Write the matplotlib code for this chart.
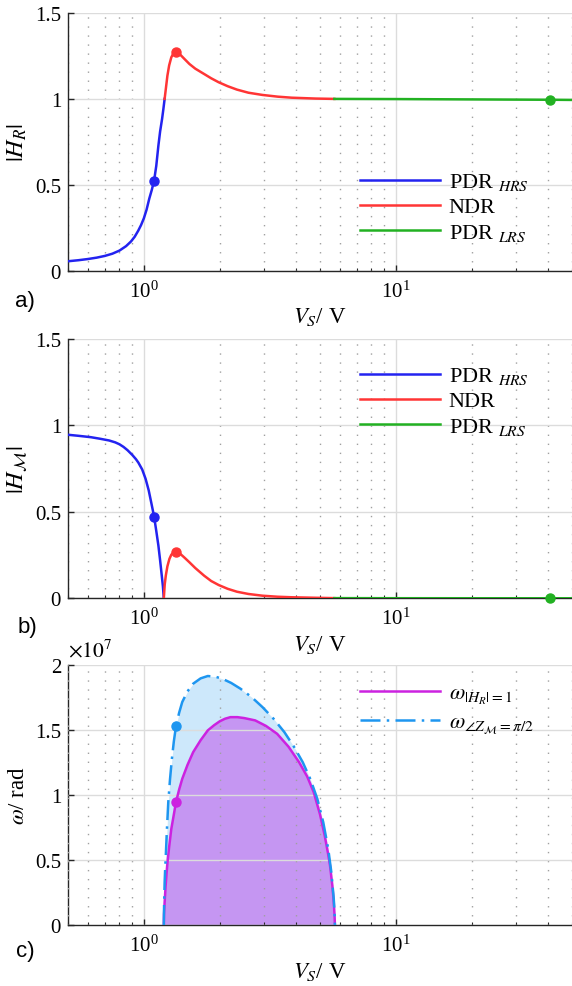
import matplotlib
matplotlib.use("Agg")
import matplotlib.pyplot as plt
from matplotlib.ticker import LogLocator, NullFormatter, FixedLocator

plt.rcParams['font.family'] = ['Liberation Serif', 'DejaVu Serif']
plt.rcParams['mathtext.fontset'] = 'stix'

# ---------------- data ----------------
# panel a: |H_R|
hr_hrs_v = [0.5, 0.55, 0.6, 0.65, 0.7, 0.75, 0.8, 0.85, 0.889, 0.92, 0.95, 0.975, 1.0,
            1.025, 1.051, 1.075, 1.098, 1.12, 1.142, 1.16, 1.181, 1.195, 1.209]
hr_hrs = [0.055, 0.061, 0.068, 0.076, 0.086, 0.099, 0.117, 0.143, 0.170, 0.198, 0.233,
          0.266, 0.305, 0.355, 0.420, 0.470, 0.524, 0.610, 0.728, 0.810, 0.883, 0.940, 1.0]
hr_ndr_v = [1.209, 1.225, 1.24, 1.26, 1.285, 1.31, 1.341, 1.37, 1.40, 1.45, 1.517, 1.6,
            1.734, 1.85, 1.98, 2.15, 2.342, 2.6, 2.956, 3.4, 3.86, 4.8, 5.7]
hr_ndr = [1.0, 1.07, 1.135, 1.195, 1.242, 1.265, 1.275, 1.268, 1.255, 1.232, 1.203, 1.176,
          1.145, 1.12, 1.097, 1.074, 1.054, 1.036, 1.023, 1.013, 1.007, 1.002, 1.0]
hr_lrs_v = [5.7, 10, 20, 41, 50]
hr_lrs = [1.0, 0.999, 0.997, 0.995, 0.994]
hr_dots_v = [1.098, 1.341, 41]
hr_dots = [0.524, 1.275, 0.995]

# panel b: |H_M|
hm_hrs_v = [0.5, 0.55, 0.616, 0.67, 0.728, 0.77, 0.80, 0.83, 0.861, 0.90, 0.93, 0.951,
            0.985, 1.016, 1.045, 1.069, 1.085, 1.098, 1.12, 1.142, 1.16, 1.174, 1.19, 1.20]
hm_hrs = [0.946, 0.940, 0.932, 0.923, 0.913, 0.902, 0.891, 0.876, 0.857, 0.829, 0.805, 0.785,
          0.745, 0.691, 0.625, 0.556, 0.510, 0.473, 0.39, 0.305, 0.22, 0.150, 0.07, 0.0]
hm_ndr_v = [1.20, 1.21, 1.222, 1.24, 1.263, 1.285, 1.31, 1.341, 1.37, 1.40, 1.45, 1.517, 1.6,
            1.734, 1.85, 1.98, 2.15, 2.342, 2.6, 2.956, 3.4, 3.86, 4.8, 5.7]
hm_ndr = [0.0, 0.08, 0.131, 0.185, 0.228, 0.252, 0.265, 0.270, 0.264, 0.255, 0.235, 0.208, 0.175,
          0.131, 0.100, 0.077, 0.055, 0.038, 0.025, 0.015, 0.009, 0.006, 0.003, 0.001]
hm_lrs_v = [5.7, 10, 20, 41, 50]
hm_lrs = [0.001, 0.0005, 0.0003, 0.0002, 0.0002]
hm_dots_v = [1.098, 1.341, 41]
hm_dots = [0.473, 0.270, 0.0002]

# panel c: omega (units of 1e7 rad)
w_hr_v = [1.20, 1.202, 1.205, 1.209, 1.22, 1.23, 1.241, 1.26, 1.285, 1.31, 1.341, 1.38, 1.42,
          1.49, 1.569, 1.68, 1.793, 1.9, 2.0, 2.1, 2.206, 2.35, 2.5, 2.765, 3.05, 3.38, 3.75,
          4.13, 4.45, 4.72, 5.0, 5.22, 5.38, 5.48, 5.6, 5.67, 5.71, 5.73]
w_hr = [0, 0.08, 0.12, 0.174, 0.30, 0.39, 0.482, 0.60, 0.738, 0.83, 0.944, 1.04, 1.123,
        1.23, 1.328, 1.42, 1.495, 1.535, 1.565, 1.585, 1.597, 1.597, 1.590, 1.572, 1.53, 1.469, 1.37,
        1.251, 1.14, 1.021, 0.85, 0.687, 0.55, 0.456, 0.30, 0.174, 0.08, 0]
w_z_v = [1.20, 1.203, 1.209, 1.215, 1.222, 1.235, 1.25, 1.27, 1.292, 1.315, 1.341, 1.38, 1.42,
         1.49, 1.569, 1.68, 1.793, 1.92, 2.048, 2.22, 2.42, 2.68, 2.956, 3.27, 3.61, 3.94,
         4.27, 4.58, 4.88, 5.15, 5.39, 5.55, 5.67, 5.71, 5.73]
w_z = [0, 0.15, 0.328, 0.43, 0.533, 0.74, 0.944, 1.12, 1.277, 1.41, 1.526, 1.63, 1.713,
       1.795, 1.854, 1.895, 1.913, 1.908, 1.892, 1.86, 1.815, 1.75, 1.674, 1.585, 1.482, 1.37,
       1.251, 1.12, 0.969, 0.79, 0.585, 0.40, 0.2, 0.1, 0]
w_dots_v = [1.341, 1.341]
w_dots = [0.944, 1.526]

labels_ab = [r'PDR $_{HRS}$', 'NDR', r'PDR $_{LRS}$']
labels_c = [r'$\omega_{|H_R|=1}$', r'$\omega_{\angle Z_{\mathcal{M}}=\pi/2}$']

C_BLUE = '#2323f0'
C_RED = '#ff3535'
C_GREEN = '#22b122'
C_MAG = '#cc22e0'
C_LB = '#1e96f0'
C_FILL_LB = '#cde8fb'
C_FILL_P = '#c596f2'

FS = 15
FS_LAB = 16.5
FS_LEG = 16
LW = 1.8
W, H = 572, 987
fig = plt.figure(figsize=(W / 100, H / 100), dpi=100)

def ax_rect(top, bottom, left=68, right=572):
    return [left / W, 1 - bottom / H, (right - left) / W, (bottom - top) / H]

def style(ax, ylim, yticks, yticklabels):
    ax.set_xscale('log')
    ax.set_xlim(0.5, 50)
    ax.set_ylim(*ylim)
    ax.set_yticks(yticks)
    ax.set_yticklabels(yticklabels)
    ax.xaxis.set_major_locator(FixedLocator([1, 10]))
    ax.xaxis.set_minor_locator(LogLocator(base=10, subs=range(2, 10), numticks=20))
    ax.xaxis.set_minor_formatter(NullFormatter())
    ax.grid(True, which='major', color='#dcdcdc', lw=1.0, ls='-')
    ax.grid(True, which='minor', axis='x', color='#a0a0a0', lw=1.0, ls=(0, (1, 5.5)))
    ax.grid(False, which='minor', axis='y')
    for s in ['top', 'right']:
        ax.spines[s].set_visible(False)
    for s in ['left', 'bottom']:
        ax.spines[s].set_color('#262626')
        ax.spines[s].set_linewidth(1.0)
    ax.tick_params(which='major', direction='in', length=4.5, width=1.0, color='#262626',
                   labelsize=FS, pad=5)
    ax.tick_params(which='minor', direction='in', length=2.5, width=0.8, color='#262626')
    ax.tick_params(axis='x', which='major', pad=7)
    ax.set_xlabel(r'$V_S$/ V', fontsize=FS_LAB)
    ax.xaxis.set_label_coords(0.5, -0.135)

legkw = dict(loc='upper left', frameon=False, fontsize=FS_LEG, handlelength=3.6,
             handletextpad=0.4, labelspacing=0.2, borderpad=0, borderaxespad=0)

# ---------- panel a ----------
axa = fig.add_axes(ax_rect(14, 271.7))
style(axa, (0, 1.5), [0, 0.5, 1, 1.5], ['0', '0.5', '1', '1.5'])
axa.plot(hr_hrs_v, hr_hrs, color=C_BLUE, lw=LW, label=labels_ab[0], zorder=3)
axa.plot(hr_ndr_v, hr_ndr, color=C_RED, lw=LW, label=labels_ab[1], zorder=3)
axa.plot(hr_lrs_v, hr_lrs, color=C_GREEN, lw=LW, label=labels_ab[2], zorder=3)
for v, y, c in zip(hr_dots_v, hr_dots, [C_BLUE, C_RED, C_GREEN]):
    axa.plot([v], [y], 'o', color=c, ms=6.5, zorder=4)
axa.set_ylabel(r'$|H_R|$', fontsize=FS_LAB + 1)
axa.yaxis.set_label_coords(-0.077, 0.5)
axa.legend(bbox_to_anchor=(0.579, 0.385), **legkw)
fig.text(25 / W, 1 - 301 / H, 'a)', fontsize=FS + 1, family='Liberation Sans', ha='center', va='center')

# ---------- panel b ----------
axb = fig.add_axes(ax_rect(340, 599.3))
style(axb, (0, 1.5), [0, 0.5, 1, 1.5], ['0', '0.5', '1', '1.5'])
axb.plot(hm_hrs_v, hm_hrs, color=C_BLUE, lw=LW, label=labels_ab[0], zorder=3)
axb.plot(hm_ndr_v, hm_ndr, color=C_RED, lw=LW, label=labels_ab[1], zorder=3)
axb.plot(hm_lrs_v, hm_lrs, color=C_GREEN, lw=LW, label=labels_ab[2], zorder=3)
for v, y, c in zip(hm_dots_v, hm_dots, [C_BLUE, C_RED, C_GREEN]):
    axb.plot([v], [y], 'o', color=c, ms=6.5, zorder=4, clip_on=False)
axb.set_ylabel(r'$|H_{\mathcal{M}}|$', fontsize=FS_LAB + 1)
axb.yaxis.set_label_coords(-0.077, 0.5)
axb.legend(bbox_to_anchor=(0.579, 0.898), **legkw)
fig.text(27 / W, 1 - 628 / H, 'b)', fontsize=FS + 1, family='Liberation Sans', ha='center', va='center')

# ---------- panel c ----------
axc = fig.add_axes(ax_rect(665.7, 926))
style(axc, (0, 2), [0, 0.5, 1, 1.5, 2], ['0', '0.5', '1', '1.5', '2'])
axc.set_axisbelow(False)
axc.fill_between(w_z_v, w_z, 0, color=C_FILL_LB, lw=0, zorder=1)
axc.fill_between(w_hr_v, w_hr, 0, color=C_FILL_P, lw=0, zorder=1.2)
axc.plot(w_hr_v, w_hr, color=C_MAG, lw=LW, label=labels_c[0], zorder=3)
axc.plot(w_z_v, w_z, color=C_LB, lw=LW, ls=(0, (8, 2.5, 1, 2.5)), label=labels_c[1], zorder=3)
for v, y, c in zip(w_dots_v, w_dots, [C_MAG, C_LB]):
    axc.plot([v], [y], 'o', color=c, ms=6.5, zorder=4)
axc.set_ylabel(r'$\omega$/ rad', fontsize=FS_LAB)
axc.yaxis.set_label_coords(-0.077, 0.5)
axc.text(0.0, 1.012, r'$\times 10^{7}$', transform=axc.transAxes, fontsize=FS + 0.5,
         ha='left', va='bottom')
axc.legend(bbox_to_anchor=(0.579, 0.93), **dict(legkw, labelspacing=0.3))
fig.text(25 / W, 1 - 952 / H, 'c)', fontsize=FS + 1, family='Liberation Sans', ha='center', va='center')

fig.savefig('out.png', dpi=100)
